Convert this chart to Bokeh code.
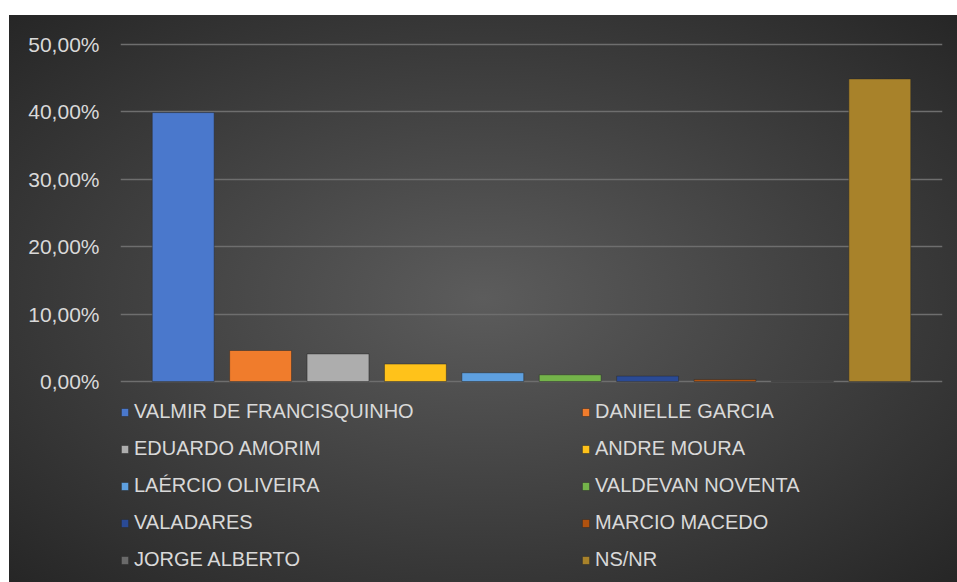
from bokeh.plotting import figure
from bokeh.models import FactorRange, Range1d, FixedTicker, Legend, LegendItem, ColumnDataSource
from bokeh.embed import file_html
from bokeh.resources import INLINE

candidates = ["VALMIR DE FRANCISQUINHO", "DANIELLE GARCIA", "EDUARDO AMORIM", "ANDRE MOURA",
              "LAÉRCIO OLIVEIRA", "VALDEVAN NOVENTA", "VALADARES", "MARCIO MACEDO",
              "JORGE ALBERTO", "NS/NR"]
percentages = [39.9, 4.6, 4.1, 2.6, 1.3, 1.0, 0.8, 0.3, 0.1, 44.9]
bar_colors = ["#4a78cc", "#f07c2c", "#adadad", "#ffc21a", "#5ea0e0", "#74b44a",
              "#2a4a95", "#b0520f", "#6a6a6a", "#a8822a"]
y_ticks = [0, 10, 20, 30, 40, 50]
y_tick_labels = ["0,00%", "10,00%", "20,00%", "30,00%", "40,00%", "50,00%"]

FONT = "Liberation Sans"
TEXT_COLOR = "#d9d9d9"

source = ColumnDataSource(dict(cand=candidates, val=percentages, color=bar_colors))

# the frame extends down to the bottom edge so the legend (drawn inside it) is not clipped
p = figure(width=948, height=567, output_backend="svg", toolbar_location=None,
           x_range=FactorRange(factors=candidates, range_padding=0.31, range_padding_units="absolute"),
           y_range=Range1d(-29.82, 50.3),
           min_border_left=111, min_border_right=15, min_border_top=27, min_border_bottom=0)
p.margin = (15, 0, 0, 9)
p.styles = {"background": "radial-gradient(ellipse farthest-corner at 50% 50%, #5c5c5c 0%, #262626 100%)"}
p.background_fill_alpha = 0
p.border_fill_alpha = 0
p.outline_line_color = None

r = p.vbar(x="cand", top="val", width=0.8, source=source, fill_color="color",
           line_color="#2a2a2a", line_alpha=0.5, line_width=1)

p.xaxis.visible = False
p.xgrid.visible = False
p.ygrid.grid_line_color = "#6e6e6e"
p.ygrid.grid_line_width = 1.3

ya = p.yaxis[0]
ya.ticker = FixedTicker(ticks=y_ticks)
ya.major_label_overrides = {t: l for t, l in zip(y_ticks, y_tick_labels)}
ya.axis_line_color = None
ya.major_tick_line_color = None
ya.minor_tick_line_color = None
ya.major_tick_out = 0
ya.major_label_standoff = 21
ya.major_label_text_font = FONT
ya.major_label_text_font_size = "21px"
ya.major_label_text_color = TEXT_COLOR


def make_legend(indices, loc):
    items = [LegendItem(label=candidates[i], renderers=[r], index=i) for i in indices]
    lg = Legend(items=items, location=loc, orientation="vertical")
    lg.label_text_font = FONT
    lg.label_text_font_size = "20px"
    lg.label_text_color = TEXT_COLOR
    lg.label_standoff = 5
    lg.glyph_width = 9
    lg.glyph_height = 10
    lg.label_height = 23
    lg.spacing = 14
    lg.padding = 0
    lg.margin = 0
    lg.border_line_alpha = 0
    lg.background_fill_alpha = 0
    return lg


p.add_layout(make_legend([0, 2, 4, 6, 8], (0, 11)))
p.add_layout(make_legend([1, 3, 5, 7, 9], (461, 11)))

open("out.html", "w").write(file_html(p, INLINE))
